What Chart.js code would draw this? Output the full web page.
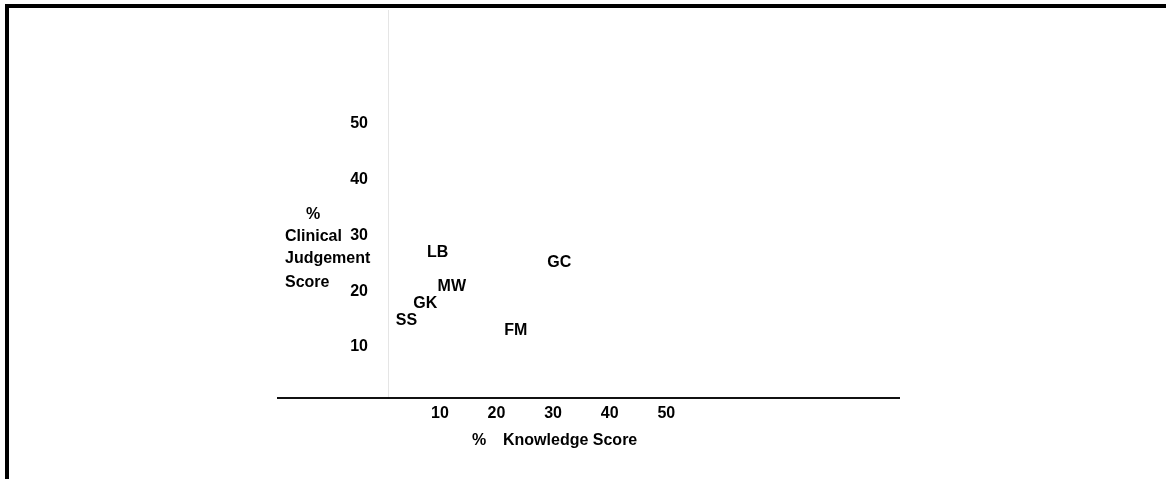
<!DOCTYPE html>
<html lang="en">
<head>
<meta charset="UTF-8">
<title>Clinical judgement vs knowledge score</title>
<script src="https://cdn.jsdelivr.net/npm/chart.js@4.4.0/dist/chart.umd.min.js"></script>
<style>
  html, body { margin: 0; padding: 0; background: #fff; }
  #wrap { position: relative; width: 1166px; height: 479px; overflow: hidden; }
  #frame { position: absolute; left: 5px; top: 4px; right: -10px; bottom: -10px;
           border-top: 4px solid #000; border-left: 4px solid #000; pointer-events: none; }
</style>
</head>
<body>
<div id="wrap">
    <canvas id="chart"></canvas>
    <div id="frame"></div>
</div>
<script>
    // initials of each person, knowledge % (x) and clinical judgement % (y)
    const people = ['LB', 'GC', 'MW', 'GK', 'SS', 'FM'];
    const knowledge = [9.6, 31.1, 12.1, 7.4, 4.1, 23.4];
    const judgement = [27.0, 25.2, 20.9, 17.8, 14.8, 12.9];
    const xTicks = [10, 20, 30, 40, 50];
    const yTicks = [10, 20, 30, 40, 50];

    const font = { family: "'Liberation Sans', Arial, sans-serif", size: 16, weight: 'bold' };
    const fontStr = "bold 16px 'Liberation Sans', Arial, sans-serif";

    // draws the initials at each point, plus the axis captions
    const textPlugin = {
        id: 'textPlugin',
        afterDatasetsDraw(chart) {
            const ctx = chart.ctx;
            const meta = chart.getDatasetMeta(0);
            ctx.save();
            ctx.font = fontStr;
            ctx.fillStyle = '#000';
            ctx.textAlign = 'center';
            ctx.textBaseline = 'middle';
            meta.data.forEach((pt, i) => {
                ctx.fillText(people[i], pt.x, pt.y);
            });

            // y caption, stacked on the left
            ctx.fillText('%', 313, 215);
            ctx.textAlign = 'left';
            ctx.fillText('Clinical', 285, 237);
            ctx.fillText('Judgement', 285, 259);
            ctx.fillText('Score', 285, 283);

            // x caption
            ctx.textAlign = 'center';
            ctx.fillText('%', 479, 441);
            ctx.textAlign = 'left';
            ctx.fillText('Knowledge Score', 503, 441);
            ctx.restore();
        }
    };

    new Chart(document.getElementById('chart'), {
        type: 'scatter',
        data: {
            datasets: [{
                data: knowledge.map((k, i) => ({ x: k, y: judgement[i] })),
                pointRadius: 0,
                pointHoverRadius: 0,
                showLine: false
            }]
        },
        options: {
            responsive: true,
            maintainAspectRatio: false,
            animation: false,
            events: [],
            layout: { padding: { left: 278, right: 267, top: 10, bottom: 0 } },
            plugins: {
                legend: { display: false },
                tooltip: { enabled: false }
            },
            scales: {
                x: {
                    type: 'linear',
                    min: -18.6,
                    max: 91.1,
                    grid: { display: false, drawTicks: false },
                    border: { display: true, color: '#111', width: 2 },
                    ticks: { font: font, color: '#000', padding: 6 },
                    afterBuildTicks: s => { s.ticks = xTicks.map(v => ({ value: v })); },
                    afterFit: s => { s.height = 81; }
                },
                y: {
                    type: 'linear',
                    position: { x: -2.7 },
                    min: 0.85,
                    max: 70.45,
                    grid: { display: false, drawTicks: false },
                    border: { display: false },
                    ticks: { font: font, color: '#000', padding: 0 },
                    afterBuildTicks: s => { s.ticks = yTicks.map(v => ({ value: v })); }
                },
                // faint vertical axis line (barely visible in the scan)
                y2: {
                    type: 'linear',
                    position: { x: 1 },
                    min: 0.85,
                    max: 70.45,
                    grid: { display: false, drawTicks: false },
                    border: { display: true, color: 'rgba(0,0,0,0.1)', width: 1 },
                    ticks: { display: false }
                }
            }
        },
        plugins: [textPlugin]
    });
</script>
</body>
</html>
